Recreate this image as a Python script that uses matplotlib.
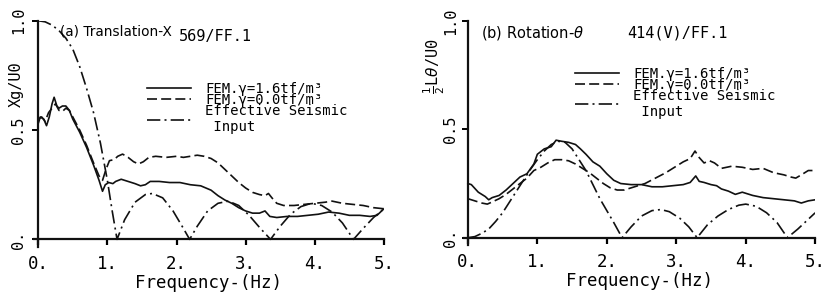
import matplotlib
matplotlib.use("Agg")
import matplotlib.pyplot as plt

plt.rcParams['font.family'] = ['DejaVu Sans Mono', 'DejaVu Sans']

# ---- panel (a) Translation-X ----
a_esi_f = [0, 0.1, 0.2, 0.3, 0.4, 0.5, 0.6, 0.7, 0.8, 0.9, 1.0, 1.07, 1.14, 1.25, 1.4,
           1.55, 1.65, 1.8, 1.95, 2.1, 2.19, 2.3, 2.45, 2.6, 2.75, 2.9, 3.05, 3.2, 3.36,
           3.5, 3.65, 3.8, 3.95, 4.1, 4.25, 4.4, 4.56, 4.7, 4.85, 5.0]
a_esi = [1.0, 0.995, 0.98, 0.955, 0.92, 0.87, 0.79, 0.69, 0.58, 0.44, 0.27, 0.13, 0.0,
         0.09, 0.17, 0.205, 0.21, 0.19, 0.13, 0.05, 0.0, 0.06, 0.13, 0.165, 0.175, 0.155,
         0.11, 0.055, 0.0, 0.06, 0.115, 0.15, 0.165, 0.155, 0.125, 0.075, 0.0, 0.05, 0.1, 0.14]

a_fem16_f = [0, 0.03, 0.08, 0.12, 0.16, 0.2, 0.23, 0.27, 0.3, 0.35, 0.4, 0.45, 0.5, 0.6,
             0.7, 0.8, 0.88, 0.93, 0.97, 1.02, 1.08, 1.12, 1.2, 1.3, 1.4, 1.48, 1.55, 1.62,
             1.75, 1.9, 2.05, 2.2, 2.35, 2.5, 2.6, 2.7, 2.8, 2.9, 3.0, 3.1, 3.2, 3.28, 3.35,
             3.45, 3.6, 3.75, 3.9, 4.05, 4.2, 4.35, 4.5, 4.65, 4.8, 4.9, 5.0]
a_fem16 = [0.53, 0.56, 0.55, 0.52, 0.56, 0.62, 0.65, 0.61, 0.6, 0.61, 0.61, 0.59, 0.55,
           0.49, 0.42, 0.34, 0.27, 0.22, 0.25, 0.26, 0.255, 0.265, 0.275, 0.265, 0.255,
           0.245, 0.25, 0.265, 0.265, 0.26, 0.26, 0.25, 0.245, 0.225, 0.2, 0.18, 0.165,
           0.145, 0.13, 0.12, 0.12, 0.13, 0.105, 0.1, 0.105, 0.105, 0.11, 0.115, 0.125,
           0.12, 0.11, 0.11, 0.105, 0.11, 0.14]

a_fem00_f = [0, 0.05, 0.1, 0.15, 0.2, 0.25, 0.3, 0.35, 0.4, 0.45, 0.5, 0.6, 0.7, 0.8,
             0.88, 0.93, 0.98, 1.03, 1.1, 1.15, 1.22, 1.3, 1.38, 1.45, 1.52, 1.6, 1.7,
             1.85, 2.0, 2.1, 2.2, 2.3, 2.4, 2.5, 2.6, 2.7, 2.8, 2.9, 3.0, 3.1, 3.2, 3.28,
             3.33, 3.38, 3.45, 3.55, 3.7, 3.85, 4.0, 4.15, 4.25, 4.4, 4.55, 4.7, 4.85, 5.0]
a_fem00 = [0.55, 0.56, 0.54, 0.58, 0.6, 0.62, 0.59, 0.585, 0.6, 0.59, 0.56, 0.5, 0.43,
           0.35, 0.29, 0.27, 0.32, 0.36, 0.365, 0.38, 0.39, 0.375, 0.355, 0.345, 0.355,
           0.375, 0.38, 0.375, 0.38, 0.375, 0.38, 0.385, 0.38, 0.37, 0.35, 0.32, 0.29,
           0.26, 0.235, 0.215, 0.205, 0.2, 0.21, 0.19, 0.165, 0.155, 0.155, 0.16, 0.165,
           0.17, 0.175, 0.165, 0.16, 0.155, 0.145, 0.14]

# ---- panel (b) Rotation-theta ----
b_esi_f = [0, 0.1, 0.2, 0.3, 0.4, 0.5, 0.6, 0.7, 0.8, 0.9, 1.0, 1.1, 1.2, 1.3, 1.4, 1.5,
           1.6, 1.7, 1.8, 1.9, 2.0, 2.1, 2.22, 2.35, 2.5, 2.65, 2.78, 2.9, 3.05, 3.18, 3.3,
           3.45, 3.6, 3.75, 3.9, 4.0, 4.15, 4.3, 4.45, 4.6, 4.75, 4.9, 5.0]
b_esi = [0.0, 0.005, 0.02, 0.04, 0.075, 0.115, 0.165, 0.215, 0.265, 0.315, 0.36, 0.4,
         0.43, 0.445, 0.44, 0.41, 0.36, 0.31, 0.245, 0.18, 0.125, 0.07, 0.0, 0.05, 0.1,
         0.125, 0.13, 0.12, 0.09, 0.05, 0.0, 0.06, 0.1, 0.13, 0.15, 0.155, 0.145, 0.115,
         0.07, 0.0, 0.04, 0.085, 0.115]

b_fem16_f = [0, 0.05, 0.15, 0.25, 0.3, 0.35, 0.45, 0.55, 0.65, 0.75, 0.85, 0.95, 1.0,
             1.1, 1.2, 1.27, 1.35, 1.45, 1.55, 1.62, 1.7, 1.8, 1.9, 2.0, 2.1, 2.2, 2.35,
             2.5, 2.65, 2.8, 2.95, 3.1, 3.2, 3.28, 3.33, 3.4, 3.5, 3.58, 3.65, 3.75, 3.85,
             3.95, 4.1, 4.25, 4.4, 4.55, 4.7, 4.8, 4.9, 5.0]
b_fem16 = [0.25, 0.245, 0.21, 0.19, 0.175, 0.185, 0.195, 0.22, 0.25, 0.28, 0.295, 0.34,
           0.385, 0.41, 0.42, 0.45, 0.445, 0.44, 0.43, 0.41, 0.385, 0.35, 0.33, 0.295,
           0.265, 0.25, 0.245, 0.245, 0.235, 0.235, 0.24, 0.245, 0.255, 0.285, 0.26,
           0.255, 0.245, 0.24, 0.225, 0.215, 0.2, 0.21, 0.195, 0.185, 0.18, 0.175, 0.17,
           0.16, 0.17, 0.175]

b_fem00_f = [0, 0.1, 0.2, 0.28, 0.35, 0.45, 0.55, 0.65, 0.75, 0.85, 0.95, 1.05, 1.15,
             1.25, 1.35, 1.45, 1.55, 1.65, 1.75, 1.85, 1.95, 2.05, 2.15, 2.25, 2.4, 2.55,
             2.7, 2.85, 3.0, 3.1, 3.2, 3.27, 3.33, 3.4, 3.48, 3.55, 3.65, 3.8, 3.95, 4.1,
             4.25, 4.4, 4.55, 4.65, 4.72, 4.8, 4.9, 5.0]
b_fem00 = [0.18, 0.17, 0.16, 0.155, 0.165, 0.18, 0.2, 0.225, 0.25, 0.275, 0.31, 0.325,
           0.345, 0.36, 0.36, 0.355, 0.34, 0.32, 0.3, 0.275, 0.25, 0.23, 0.22, 0.22, 0.235,
           0.25, 0.275, 0.3, 0.33, 0.35, 0.365, 0.4, 0.37, 0.345, 0.355, 0.345, 0.32, 0.33,
           0.325, 0.315, 0.32, 0.3, 0.29, 0.28, 0.275, 0.29, 0.31, 0.31]

labels = ['FEM.\u03b3=1.6tf/m\u00b3', 'FEM.\u03b3=0.0tf/m\u00b3', 'Effective Seismic\n Input']
x_ticks = [0, 1, 2, 3, 4, 5]
x_ticklabels = ['0.', '1.', '2.', '3.', '4.', '5.']
y_ticks = [0, 0.5, 1.0]
y_ticklabels = ['0.', '0.5', '1.0']

INK = '#111111'
LW = 1.2


def setup_axis(ax, ylabel, ylabel_x, ylabel_y, ytick_pad):
    ax.set_xlim(-0.06, 5.0)
    ax.set_ylim(-0.035, 1.0)
    for s in ['top', 'right']:
        ax.spines[s].set_visible(False)
    for s in ['bottom', 'left']:
        ax.spines[s].set_position(('data', 0))
        ax.spines[s].set_linewidth(1.6)
        ax.spines[s].set_color(INK)
    ax.set_xticks(x_ticks)
    ax.set_xticklabels(x_ticklabels)
    ax.set_yticks(y_ticks)
    ax.set_yticklabels(y_ticklabels, rotation=90, va='center')
    ax.tick_params(axis='x', direction='out', length=4, width=1.6, pad=7, labelsize=12.5)
    ax.tick_params(axis='y', direction='out', length=4, width=1.4, pad=ytick_pad, labelsize=11)
    ax.set_xlabel('Frequency-(Hz)', fontsize=12.5, labelpad=1)
    ax.set_ylabel(ylabel, fontsize=11, va='center', ha='center')
    ax.yaxis.set_label_coords(ylabel_x, ylabel_y)


def draw_panel(ax, f16, v16, f00, v00, fesi, vesi):
    ax.plot(f16, v16, color=INK, lw=LW, ls='-', label=labels[0])
    ax.plot(f00, v00, color=INK, lw=LW, ls=(0, (6, 2.5)), label=labels[1])
    ax.plot(fesi, vesi, color=INK, lw=LW, ls=(0, (8, 2.5, 1.2, 2.5)), label=labels[2])


fig = plt.figure(figsize=(8.31, 2.92), dpi=100)
ax1 = fig.add_axes([0.041, 0.154, 0.421, 0.775])
ax2 = fig.add_axes([0.558, 0.160, 0.423, 0.768])

draw_panel(ax1, a_fem16_f, a_fem16, a_fem00_f, a_fem00, a_esi_f, a_esi)
draw_panel(ax2, b_fem16_f, b_fem16, b_fem00_f, b_fem00, b_esi_f, b_esi)

setup_axis(ax1, 'Xg/U0', -0.052, 0.72, 5)
setup_axis(ax2, r'$\frac{1}{2}$L$\theta$/U0', -0.083, 0.80, 3)

ax1.text(0.32, 0.95, '(a) Translation-X', fontsize=9.8, va='center', ha='left',
         family='DejaVu Sans')
ax1.text(2.04, 0.93, '569/FF.1', fontsize=11, va='center', ha='left')
ax2.text(0.19, 0.945, r'(b) Rotation-$\theta$', fontsize=10.5, va='center', ha='left',
         family='DejaVu Sans')
ax2.text(2.3, 0.945, '414(V)/FF.1', fontsize=11, va='center', ha='left')

for ax, (lx, ly) in [(ax1, (1.57, 0.72)), (ax2, (1.54, 0.79))]:
    leg = ax.legend(loc='upper left', bbox_to_anchor=(lx, ly), bbox_transform=ax.transData,
                    frameon=False, fontsize=10, handlelength=3.2, handletextpad=1.0,
                    labelspacing=-0.2, borderpad=0, borderaxespad=0)
    for t in leg.get_texts():
        t.set_linespacing(1.15)

fig.savefig('out.png', dpi=100)
